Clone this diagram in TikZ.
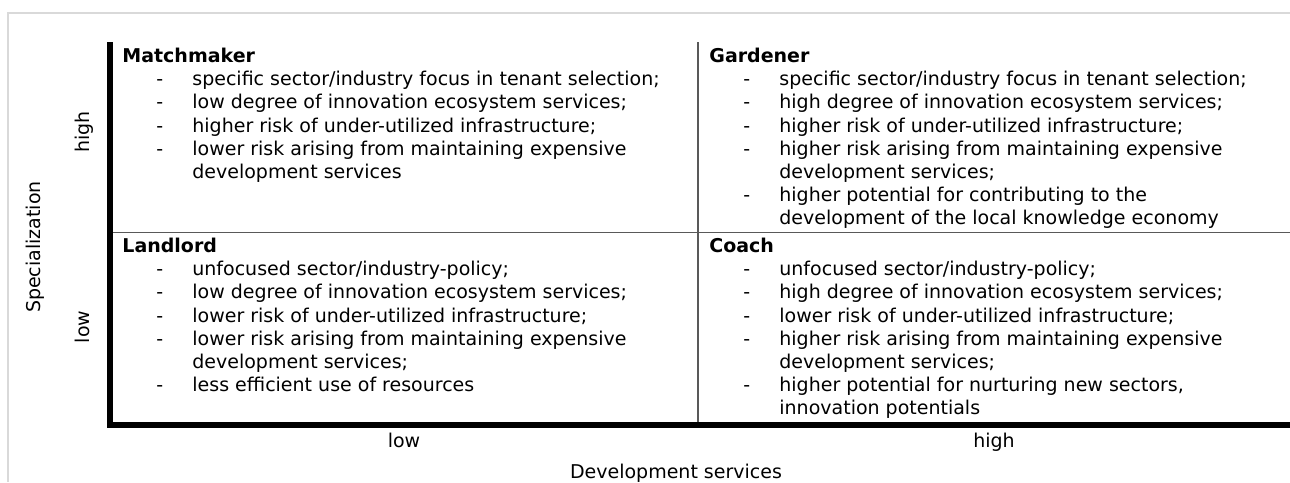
\documentclass[tikz,border=0pt]{standalone}
\usepackage{fontspec}
\setmainfont{DejaVu Sans}
\usetikzlibrary{positioning}

\tikzstyle{casella} = [anchor=north west, inner sep=0pt, align=left,
    font=\fontsize{9.5pt}{11.6pt}\selectfont]
\tikzstyle{etichetta} = [inner sep=0pt, font=\fontsize{9.5pt}{11.6pt}\selectfont]
\tikzstyle{asse} = [line width=2.6pt]
\tikzstyle{griglia} = [line width=0.6pt, black!65]
\tikzstyle{cornice} = [line width=1pt, black!15]

% riga con trattino e riga di continuazione
\newcommand{\voce}[1]{\hspace*{17pt}\makebox[18pt][l]{-}#1}
\newcommand{\segue}[1]{\hspace*{35pt}#1}

\begin{document}
\begin{tikzpicture}[x=0.5pt,y=-0.5pt]
  \useasboundingbox (0,0) rectangle (1290,482);
  \draw[cornice] (1290,13) -| (8,482);

  % assi e griglia
  \coordinate (origine) at (110,425);
  \coordinate (cima) at (110,42);
  \coordinate (fondo) at (1290,425);
  \coordinate (metasu) at (698,42);
  \coordinate (metagiu) at (698,425);
  \coordinate (mezzosx) at (110,232.5);
  \coordinate (mezzodx) at (1290,232.5);
  \draw[griglia] (metasu) -- (metagiu);
  \draw[griglia] (mezzosx) -- (mezzodx);
  \draw[asse] (cima) -- (origine) -- (fondo);

  \node [casella] (matchmaker) at (122,47.6) {\textbf{Matchmaker}\\
    \voce{specific sector/industry focus in tenant selection;}\\
    \voce{low degree of innovation ecosystem services;}\\
    \voce{higher risk of under-utilized infrastructure;}\\
    \voce{lower risk arising from maintaining expensive}\\
    \segue{development services}};
  \node [casella] (gardener) at (709,47.6) {\textbf{Gardener}\\
    \voce{specific sector/industry focus in tenant selection;}\\
    \voce{high degree of innovation ecosystem services;}\\
    \voce{higher risk of under-utilized infrastructure;}\\
    \voce{higher risk arising from maintaining expensive}\\
    \segue{development services;}\\
    \voce{higher potential for contributing to the}\\
    \segue{development of the local knowledge economy}};
  \node [casella] (landlord) at (122,237.6) {\textbf{Landlord}\\
    \voce{unfocused sector/industry-policy;}\\
    \voce{low degree of innovation ecosystem services;}\\
    \voce{lower risk of under-utilized infrastructure;}\\
    \voce{lower risk arising from maintaining expensive}\\
    \segue{development services;}\\
    \voce{less efficient use of resources}};
  \node [casella] (coach) at (709,237.6) {\textbf{Coach}\\
    \voce{unfocused sector/industry-policy;}\\
    \voce{high degree of innovation ecosystem services;}\\
    \voce{lower risk of under-utilized infrastructure;}\\
    \voce{higher risk arising from maintaining expensive}\\
    \segue{development services;}\\
    \voce{higher potential for nurturing new sectors,}\\
    \segue{innovation potentials}};

  % etichette degli assi
  \node [etichetta, anchor=base, rotate=90] (alto) at (89,132) {high};
  \node [etichetta, anchor=base, rotate=90] (basso) at (89,327) {low};
  \node [etichetta, anchor=base, rotate=90] (specializzazione) at (40,247) {Specialization};
  \node [etichetta, anchor=base] (sinistra) at (404,447) {low};
  \node [etichetta, anchor=base] (destra) at (994,447) {high};
  \node [etichetta, anchor=base] (sviluppo) at (676,478) {Development services};
\end{tikzpicture}
\end{document}
